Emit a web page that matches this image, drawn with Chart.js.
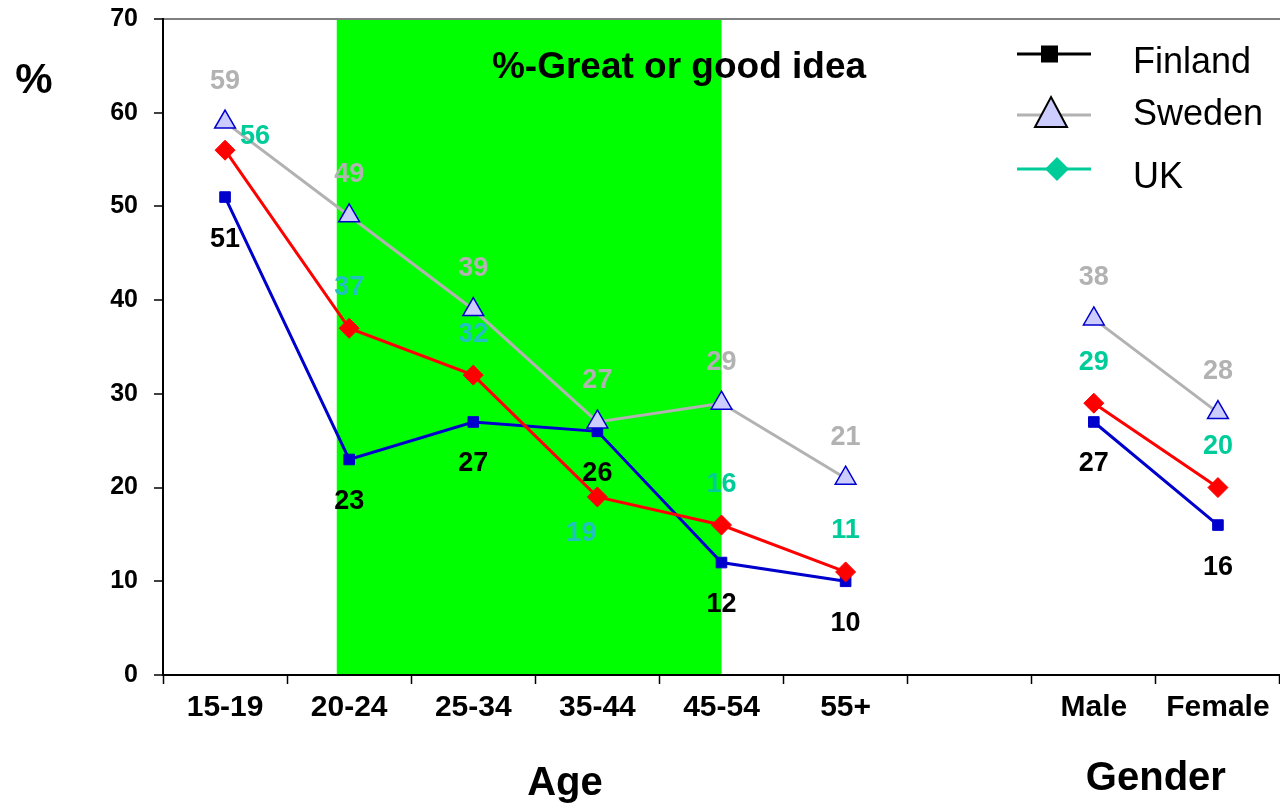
<!DOCTYPE html>
<html lang="en">
<head>
<meta charset="UTF-8" />
<title>%-Great or good idea</title>
<script src="https://cdn.jsdelivr.net/npm/chart.js"></script>
<style>
  html, body { margin: 0; padding: 0; background: #fff; }
  #wrap { width: 1280px; height: 806px; }
</style>
</head>
<body>
<div id="wrap"><canvas id="chart" width="1280" height="806"></canvas></div>
<script>
const categories = ['15-19', '20-24', '25-34', '35-44', '45-54', '55+', '', 'Male', 'Female'];
const finland = [51, 23, 27, 26, 12, 10, null, 27, 16];
const sweden = [59, 49, 39, 27, 29, 21, null, 38, 28];
const uk = [56, 37, 32, 19, 16, 11, null, 29, 20];
const yTicks = [0, 10, 20, 30, 40, 50, 60, 70];
const seriesNames = ['Finland', 'Sweden', 'UK'];

const FONT = "'Liberation Sans', Arial, sans-serif";
Chart.defaults.font.family = FONT;

// green highlight band, in category units
const bandFrom = 0.9, bandTo = 4;

function bandPixels(chart) {
  const x = chart.scales.x;
  return { left: x.getPixelForValue(bandFrom), right: x.getPixelForValue(bandTo) };
}

const band = {
  id: 'band',
  beforeDraw(chart) {
    const { ctx, chartArea } = chart;
    const b = bandPixels(chart);
    ctx.save();
    ctx.fillStyle = '#00ff00';
    ctx.fillRect(b.left, chartArea.top, b.right - b.left, chartArea.bottom - chartArea.top);
    ctx.restore();
  }
};

const valueLabels = {
  id: 'valueLabels',
  afterDatasetsDraw(chart) {
    const ctx = chart.ctx;
    const b = bandPixels(chart);
    ctx.save();
    ctx.font = 'bold 27px ' + FONT;
    ctx.textAlign = 'center';
    ctx.textBaseline = 'middle';
    chart.data.datasets.forEach((ds, i) => {
      const meta = chart.getDatasetMeta(i);
      meta.data.forEach((pt, j) => {
        const v = ds.data[j];
        if (v == null) return;
        const move = (ds.labelMoves && ds.labelMoves[j]) || [0, ds.labelDy];
        const x = pt.x + move[0], y = pt.y + move[1];
        const onBand = ds.labelColorOnBand && x > b.left && x < b.right - 5;
        ctx.fillStyle = onBand ? ds.labelColorOnBand : ds.labelColor;
        ctx.fillText(String(v), x, y);
      });
    });
    ctx.restore();
  }
};

const extras = {
  id: 'extras',
  afterDraw(chart) {
    const ctx = chart.ctx;
    const x = chart.scales.x;
    ctx.save();
    ctx.fillStyle = '#000';
    ctx.textAlign = 'center';
    ctx.textBaseline = 'middle';
    ctx.font = 'bold 37px ' + FONT;
    ctx.fillText('%-Great or good idea', 679, 68);
    ctx.font = 'bold 42px ' + FONT;
    ctx.fillText('%', 34, 81);
    ctx.font = 'bold 40px ' + FONT;
    ctx.fillText('Age', 565, 784);
    ctx.fillText('Gender', (x.getPixelForValue(7) + x.getPixelForValue(8)) / 2, 779);

    // legend
    const rows = [54, 115, 169];
    const textY = [63, 115, 178];
    ctx.textAlign = 'left';
    ctx.font = '36px ' + FONT;
    seriesNames.forEach((name, i) => {
      const y = rows[i];
      ctx.lineWidth = 3;
      ctx.strokeStyle = ['#000', '#b2b2b2', '#00cc99'][i];
      ctx.beginPath();
      ctx.moveTo(1017, y);
      ctx.lineTo(1091, y);
      ctx.stroke();
      if (i === 0) {
        ctx.fillStyle = '#000';
        ctx.fillRect(1041, y - 8.5, 17, 17);
      } else if (i === 1) {
        ctx.beginPath();
        ctx.moveTo(1051, y - 18);
        ctx.lineTo(1067, y + 12);
        ctx.lineTo(1035, y + 12);
        ctx.closePath();
        ctx.fillStyle = '#ccccff';
        ctx.fill();
        ctx.lineWidth = 2;
        ctx.strokeStyle = '#000';
        ctx.stroke();
      } else {
        ctx.beginPath();
        ctx.moveTo(1057, y - 12);
        ctx.lineTo(1069, y);
        ctx.lineTo(1057, y + 12);
        ctx.lineTo(1045, y);
        ctx.closePath();
        ctx.fillStyle = '#00cc99';
        ctx.fill();
      }
      ctx.fillStyle = '#000';
      ctx.fillText(name, 1133, textY[i]);
    });
    ctx.restore();
  }
};

new Chart(document.getElementById('chart'), {
  type: 'line',
  data: {
    labels: categories,
    datasets: [
      {
        label: seriesNames[0],
        data: finland,
        order: 2,
        borderColor: '#0000cc',
        backgroundColor: '#0000cc',
        borderWidth: 3,
        pointStyle: 'rect',
        pointRadius: 7.5,
        pointBorderWidth: 1,
        labelColor: '#000',
        labelDy: 42
      },
      {
        label: seriesNames[1],
        data: sweden,
        order: 0,
        borderColor: '#b2b2b2',
        borderWidth: 3,
        pointStyle: 'triangle',
        pointRadius: 12,
        pointBackgroundColor: '#ccccff',
        pointBorderColor: '#0000cc',
        pointBorderWidth: 1.5,
        labelColor: '#b2b2b2',
        labelDy: -41
      },
      {
        label: seriesNames[2],
        data: uk,
        order: 1,
        borderColor: '#ff0000',
        backgroundColor: '#ff0000',
        borderWidth: 3,
        pointStyle: 'rectRot',
        pointRadius: 10,
        pointBorderWidth: 1,
        labelColor: '#00cc99',
        labelColorOnBand: '#22c0c0',
        labelDy: -41,
        labelMoves: { 0: [30, -14], 3: [-16, 37] }
      }
    ]
  },
  options: {
    responsive: false,
    animation: false,
    spanGaps: false,
    layout: { autoPadding: false, padding: { top: 19, right: 0, left: 0, bottom: 0 } },
    plugins: {
      legend: { display: false },
      tooltip: { enabled: false },
      title: { display: false }
    },
    scales: {
      x: {
        type: 'category',
        offset: true,
        grid: { display: true, drawOnChartArea: false, offset: true, tickLength: 9, tickColor: '#000', tickWidth: 1.5 },
        border: { display: true, color: '#000', width: 2 },
        ticks: {
          color: '#000',
          autoSkip: false,
          maxRotation: 0,
          padding: 6,
          font: { size: 30, weight: 'bold' }
        },
        afterFit: s => { s.height = 131; s.paddingLeft = 0; s.paddingRight = 0; }
      },
      y: {
        min: 0,
        max: 70,
        afterBuildTicks: s => { s.ticks = yTicks.map(v => ({ value: v })); },
        grid: {
          drawOnChartArea: true,
          color: c => (c.tick && c.tick.value === 70 ? '#808080' : 'rgba(0,0,0,0)'),
          lineWidth: 2,
          tickColor: '#000',
          tickLength: 9,
          tickWidth: 1.5
        },
        border: { color: '#000', width: 2 },
        ticks: { color: '#000', padding: 16, font: { size: 25, weight: 'bold' } },
        afterFit: s => { s.width = 163; s.paddingTop = 0; s.paddingBottom = 0; }
      }
    }
  },
  plugins: [band, valueLabels, extras]
});
</script>
</body>
</html>
